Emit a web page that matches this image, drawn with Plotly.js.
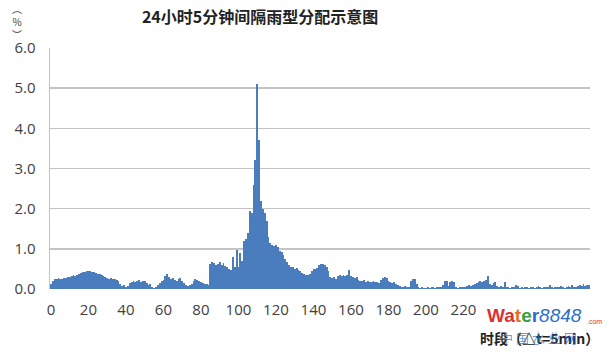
<!DOCTYPE html>
<html>
<head>
<meta charset="utf-8">
<script src="https://cdn.plot.ly/plotly-3.0.1.min.js"></script>
<style>html,body{margin:0;padding:0;background:#fff;}#chart{width:612px;height:352px;}</style>
</head>
<body>
<div id="chart"></div>
<script>
// 5-minute rainfall distribution (%), periods 0..287
const rainfall = [
  0.12,0.2,0.24,0.26,0.27,0.26,0.25,0.27,0.28,0.3,
  0.3,0.32,0.35,0.33,0.36,0.38,0.4,0.42,0.43,0.45,
  0.46,0.45,0.43,0.42,0.4,0.38,0.37,0.36,0.33,0.3,
  0.27,0.25,0.27,0.25,0.24,0.22,0.2,0.12,0.08,0.1,
  0.05,0.08,0.15,0.18,0.2,0.17,0.2,0.22,0.18,0.21,
  0.2,0.14,0.1,0.12,0.06,0.03,0.05,0.1,0.15,0.2,
  0.22,0.32,0.38,0.3,0.25,0.28,0.22,0.2,0.25,0.28,
  0.2,0.15,0.1,0.08,0.1,0.12,0.2,0.25,0.22,0.2,
  0.17,0.15,0.13,0.12,0.1,0.62,0.66,0.64,0.6,0.62,
  0.66,0.6,0.64,0.58,0.55,0.5,0.47,0.8,0.55,0.97,
  0.55,0.9,0.7,1.2,1.25,1.4,1.95,1.9,2.6,3.2,
  5.1,3.7,2.2,2.0,1.9,1.7,1.3,1.15,1.1,1.08,
  1.1,1.05,0.95,0.92,0.85,0.75,0.68,0.6,0.55,0.55,
  0.5,0.52,0.47,0.45,0.4,0.38,0.36,0.35,0.38,0.45,
  0.5,0.5,0.52,0.6,0.63,0.62,0.6,0.55,0.45,0.3,
  0.28,0.3,0.25,0.33,0.35,0.33,0.35,0.33,0.36,0.47,
  0.32,0.3,0.28,0.3,0.22,0.2,0.2,0.22,0.18,0.2,
  0.17,0.18,0.2,0.17,0.18,0.15,0.22,0.28,0.3,0.27,
  0.2,0.17,0.15,0.17,0.12,0.1,0.08,0.06,0.05,0.07,
  0.05,0.06,0.2,0.25,0.24,0.12,0.05,0.03,0.04,0.02,
  0.03,0.04,0.03,0.05,0.04,0.03,0.04,0.05,0.06,0.1,
  0.2,0.2,0.08,0.18,0.2,0.17,0.05,0.03,0.04,0.05,
  0.04,0.06,0.08,0.1,0.08,0.1,0.12,0.15,0.18,0.2,
  0.17,0.19,0.22,0.33,0.12,0.1,0.14,0.17,0.08,0.05,
  0.08,0.06,0.17,0.05,0.04,0.03,0.05,0.04,0.1,0.08,
  0.03,0.05,0.02,0.04,0.06,0.03,0.05,0.04,0.02,0.05,
  0.07,0.04,0.03,0.05,0.06,0.04,0.09,0.05,0.03,0.04,
  0.06,0.05,0.08,0.04,0.03,0.05,0.07,0.05,0.1,0.06,
  0.05,0.08,0.1,0.07,0.12,0.08,0.1,0.09
];
const periods = rainfall.map((_, i) => i);
// labels 240..280 are hidden under the watermark in the reference
const xTickVals = [0,20,40,60,80,100,120,140,160,180,200,220];
const yTickVals = [0,1,2,3,4,5,6];
const titleText = '24小时5分钟间隔雨型分配示意图';
const yUnitText = '︵<br>%<br>︶';   // "（%）" written vertically
const xTitleText = '时段（△t=5min）';

const numFont = {family: 'Open Sans, Noto Sans, sans-serif', size: 15, color: '#404040'};

const trace = {
  type: 'bar', x: periods, y: rainfall,
  marker: {color: '#4a7dbd', line: {width: 0}},
  hoverinfo: 'skip'
};

const layout = {
  width: 612, height: 352,
  margin: {l: 50, r: 22, t: 48, b: 63},
  paper_bgcolor: '#ffffff', plot_bgcolor: '#ffffff',
  bargap: 0,
  showlegend: false,
  title: {text: '<b>' + titleText + '</b>', x: 0.425, xanchor: 'center', y: 0.95, yanchor: 'middle',
          font: {family: 'Noto Sans CJK SC, sans-serif', size: 16, color: '#222'}},
  xaxis: {
    range: [-0.5, 287.5], tickvals: xTickVals, ticktext: xTickVals.map(String),
    showgrid: false, zeroline: false, showline: false, ticks: '',
    tickfont: numFont, ticklabelstandoff: 10, fixedrange: true
  },
  yaxis: {
    range: [0, 6], tickvals: yTickVals, ticktext: yTickVals.map(v => v.toFixed(1)),
    showgrid: true, gridcolor: '#c4c4c4', gridwidth: 1.5,
    zeroline: false, showline: true, linecolor: '#c4c4c4', linewidth: 1.5,
    ticks: '', tickfont: numFont, ticklabelstandoff: 10, fixedrange: true
  },
  annotations: [
    {text: yUnitText, xref: 'paper', yref: 'paper', x: -0.062, y: 1.11, xanchor: 'center', yanchor: 'middle',
     showarrow: false, font: {family: 'Noto Sans CJK SC, sans-serif', size: 10, color: '#404040'}},
    {text: '<b>' + xTitleText + '</b>', xref: 'paper', yref: 'paper', x: 1.02, y: -0.205, xanchor: 'right', yanchor: 'middle',
     showarrow: false, font: {family: 'Noto Sans CJK SC, sans-serif', size: 14, color: '#222'}},
    {text: '<b><span style="color:#e03030">Wa</span><span style="color:#e07020">t</span><span style="color:#3aa040">e</span><span style="color:#2a70c8">r</span></b><i><span style="color:#2a70c8">8848</span></i>',
     xref: 'paper', yref: 'paper', x: 0.805, y: -0.11, xanchor: 'left', yanchor: 'middle',
     showarrow: false, font: {family: 'Liberation Sans, sans-serif', size: 19}},
    {text: '.com', xref: 'paper', yref: 'paper', x: 1.025, y: -0.135, xanchor: 'right', yanchor: 'middle',
     showarrow: false, font: {family: 'Liberation Sans, sans-serif', size: 7, color: '#e03030'}},
    {text: '中 国 水 业 网', xref: 'paper', yref: 'paper', x: 0.83, y: -0.2, xanchor: 'left', yanchor: 'middle',
     showarrow: false, font: {family: 'Noto Sans CJK SC, sans-serif', size: 13, color: 'rgba(42,112,200,0.7)'}}
  ]
};

Plotly.newPlot('chart', [trace], layout, {displayModeBar: false, staticPlot: true});
</script>
</body>
</html>
